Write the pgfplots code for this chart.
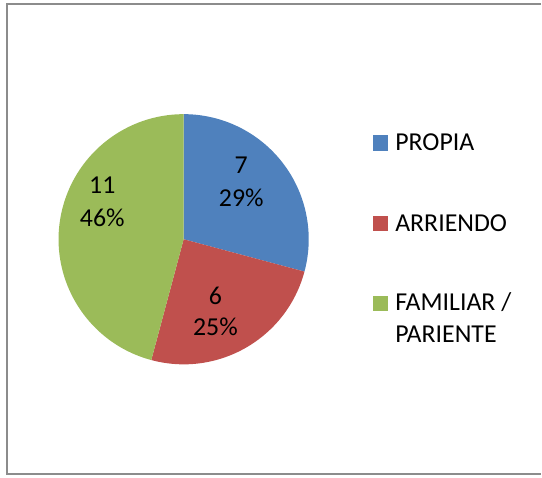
\documentclass[border=0pt]{standalone}
\usepackage{pgfplots}
\pgfplotsset{compat=1.18}
\usepackage{fontspec}
\setmainfont{Carlito}
\definecolor{cblue}{HTML}{4F81BD}
\definecolor{cred}{HTML}{C0504D}
\definecolor{cgreen}{HTML}{9BBB59}
\definecolor{frame}{HTML}{8C8C8C}
\begin{document}
\begin{tikzpicture}
\def\vA{7}\def\vB{6}\def\vC{11}
\pgfmathsetmacro{\tot}{\vA+\vB+\vC}
\pgfmathsetmacro{\aA}{90-\vA/\tot*360}
\pgfmathsetmacro{\aB}{\aA-\vB/\tot*360}
\pgfmathsetmacro{\aC}{\aB-\vC/\tot*360}
\begin{axis}[scale only axis, width=542bp, height=481bp,
  xmin=0, xmax=542, ymin=0, ymax=481, y dir=reverse,
  hide axis, clip=false]
\path (axis cs:0,0) rectangle (axis cs:542,481);
% frame
\draw[frame, line width=2bp] (axis cs:545,4.5) -- (axis cs:7.5,4.5) -- (axis cs:7.5,477) -- (axis cs:545,477);
% pie
\fill[cblue] (axis cs:185,241) -- ++(90:126bp) arc[start angle=90, end angle=\aA, radius=126bp] -- cycle;
\fill[cred] (axis cs:185,241) -- ++(\aA:126bp) arc[start angle=\aA, end angle=\aB, radius=126bp] -- cycle;
\fill[cgreen] (axis cs:185,241) -- ++(\aB:126bp) arc[start angle=\aB, end angle=\aC, radius=126bp] -- cycle;
% labels
\begin{scope}[every node/.style={inner sep=0pt, font=\fontsize{26bp}{32bp}\selectfont}]
\node[anchor=base] at (axis cs:243,175) {7};
\node[anchor=base] at (axis cs:243,208) {29\%};
\node[anchor=base] at (axis cs:217,307) {6};
\node[anchor=base] at (axis cs:217,338) {25\%};
\node[anchor=base] at (axis cs:103,195) {11};
\node[anchor=base] at (axis cs:103,228) {46\%};
% legend
\fill[cblue] (axis cs:376,136) rectangle (axis cs:391,152);
\fill[cred] (axis cs:376,218) rectangle (axis cs:391,233);
\fill[cgreen] (axis cs:376,298) rectangle (axis cs:391,313);
\node[anchor=base west] at (axis cs:398,152) {PROPIA};
\node[anchor=base west] at (axis cs:398,233) {ARRIENDO};
\node[anchor=base west] at (axis cs:398,313) {FAMILIAR /};
\node[anchor=base west] at (axis cs:398,345) {PARIENTE};
\end{scope}
\end{axis}
\end{tikzpicture}
\end{document}
